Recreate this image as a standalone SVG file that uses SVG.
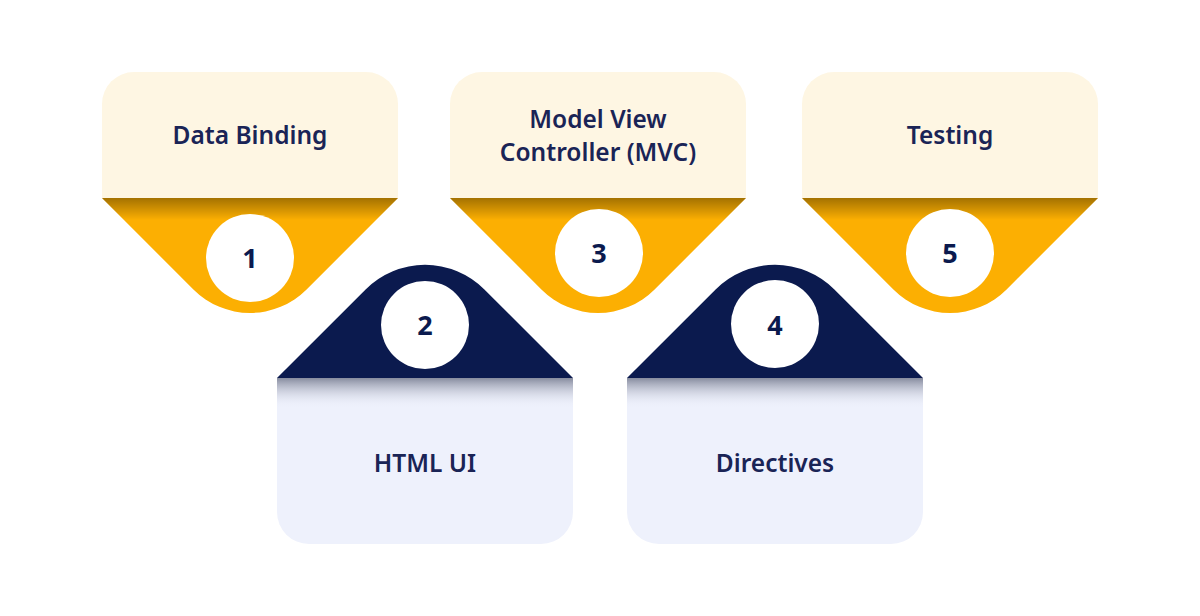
<svg xmlns="http://www.w3.org/2000/svg" width="1200" height="616" viewBox="0 0 1200 616">
<defs>
<linearGradient id="shadeY" gradientUnits="userSpaceOnUse" x1="0" y1="198" x2="0" y2="220">
<stop offset="0" stop-color="#000" stop-opacity="0.35"/>
<stop offset="1" stop-color="#000" stop-opacity="0"/>
</linearGradient>
<linearGradient id="shadeL" gradientUnits="userSpaceOnUse" x1="0" y1="378" x2="0" y2="408">
<stop offset="0" stop-color="#868B9E"/>
<stop offset="1" stop-color="#EEF1FC" stop-opacity="0"/>
</linearGradient>
</defs>
<style>
.cream{fill:#FEF6E3}
.yel{fill:#FCAF02}
.navy{fill:#0B1A4E}
.lav{fill:#EEF1FC}
.circ{fill:#FFFFFF}
.lbl{font-family:"Noto Sans","Open Sans",sans-serif;font-weight:600;font-size:24.5px;fill:#1A2456;text-anchor:middle}
.num{font-family:"Noto Sans","Open Sans",sans-serif;font-weight:700;font-size:27px;fill:#0B1A4E;text-anchor:middle}
</style>
<rect width="1200" height="616" fill="#FFFFFF"/>
<g id="connectors"/>
<g id="node1">
<path class="cream" d="M102,198 V104 A32,32 0 0 1 134,72 H366 A32,32 0 0 1 398,104 V198 Z"/>
<path class="yel" d="M102,198 H398 L306.6,289.5 A80,80 0 0 1 193.4,289.5 Z"/>
<path fill="url(#shadeY)" d="M102,198 H398 L306.6,289.5 A80,80 0 0 1 193.4,289.5 Z"/>
<circle class="circ" cx="250" cy="258" r="44"/>
<text class="lbl" x="250" y="144">Data Binding</text>
<text class="num" x="250" y="268">1</text>
</g>
<g id="node3">
<path class="cream" d="M450,198 V104 A32,32 0 0 1 482,72 H714 A32,32 0 0 1 746,104 V198 Z"/>
<path class="yel" d="M450,198 H746 L654.6,289.5 A80,80 0 0 1 541.4,289.5 Z"/>
<path fill="url(#shadeY)" d="M450,198 H746 L654.6,289.5 A80,80 0 0 1 541.4,289.5 Z"/>
<circle class="circ" cx="599" cy="253" r="44"/>
<text class="lbl" x="598" y="128">Model View</text>
<text class="lbl" x="598" y="161">Controller (MVC)</text>
<text class="num" x="599" y="263">3</text>
</g>
<g id="node5">
<path class="cream" d="M802,198 V104 A32,32 0 0 1 834,72 H1066 A32,32 0 0 1 1098,104 V198 Z"/>
<path class="yel" d="M802,198 H1098 L1006.6,289.5 A80,80 0 0 1 893.4,289.5 Z"/>
<path fill="url(#shadeY)" d="M802,198 H1098 L1006.6,289.5 A80,80 0 0 1 893.4,289.5 Z"/>
<circle class="circ" cx="950" cy="253" r="44"/>
<text class="lbl" x="950" y="144">Testing</text>
<text class="num" x="950" y="263">5</text>
</g>
<g id="node2">
<path class="navy" d="M277,378 L365.6,289.4 A84,84 0 0 1 484.4,289.4 L573,378 Z"/>
<path class="lav" d="M277,378 H573 V512 A32,32 0 0 1 541,544 H309 A32,32 0 0 1 277,512 Z"/>
<rect x="277" y="378" width="296" height="30" fill="url(#shadeL)"/>
<circle class="circ" cx="425" cy="325" r="44"/>
<text class="lbl" x="425" y="472">HTML UI</text>
<text class="num" x="425" y="335">2</text>
</g>
<g id="node4">
<path class="navy" d="M627,378 L715.6,289.4 A84,84 0 0 1 834.4,289.4 L923,378 Z"/>
<path class="lav" d="M627,378 H923 V512 A32,32 0 0 1 891,544 H659 A32,32 0 0 1 627,512 Z"/>
<rect x="627" y="378" width="296" height="30" fill="url(#shadeL)"/>
<circle class="circ" cx="775" cy="324" r="44"/>
<text class="lbl" x="775" y="472">Directives</text>
<text class="num" x="775" y="335">4</text>
</g>
</svg>
